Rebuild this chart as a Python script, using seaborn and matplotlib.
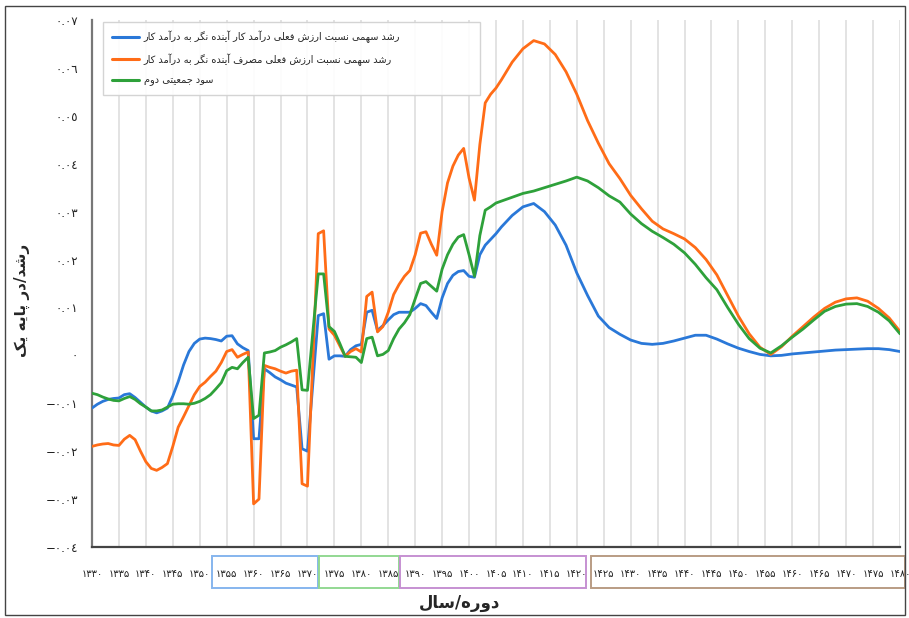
import numpy as np
import pandas as pd
import matplotlib
matplotlib.use("Agg")
import matplotlib.pyplot as plt
import matplotlib.patches as mpatches
from matplotlib.transforms import blended_transform_factory
import seaborn as sns

# ---------------- data ----------------
years = (list(range(1330, 1371)) + list(range(1372, 1406)) + list(range(1406, 1481, 2)))

blue = [
    -0.0110, -0.0102, -0.0096, -0.0092, -0.0090, -0.0089, -0.0082, -0.0080, -0.0088, -0.0098,
    -0.0108, -0.0116, -0.0120, -0.0116, -0.0110, -0.0085, -0.0055, -0.0020, 0.0008, 0.0025,
    0.0034, 0.0036, 0.0035, 0.0033, 0.0030, 0.0040, 0.0041, 0.0024, 0.0016, 0.0010,
    -0.0174, -0.0174, -0.0028, -0.0036, -0.0045, -0.0051, -0.0058, -0.0062, -0.0066, -0.0195,
    -0.0200,
    0.0083, 0.0087, -0.0008, -0.0001, -0.0001, -0.0002, 0.0012, 0.0020, 0.0023, 0.0090,
    0.0094, 0.0052, 0.0062, 0.0074, 0.0085, 0.0090, 0.0090, 0.0090, 0.0098, 0.0108,
    0.0104, 0.0090, 0.0077, 0.0120, 0.0150, 0.0167, 0.0175, 0.0177, 0.0165, 0.0163,
    0.0210, 0.0230, 0.0242, 0.0254,
    0.0268, 0.0292, 0.0310, 0.0317, 0.0300, 0.0272, 0.0230, 0.0172, 0.0125, 0.0082,
    0.0058, 0.0044, 0.0032, 0.0025, 0.0023, 0.0025, 0.0030, 0.0036, 0.0042, 0.0042,
    0.0034, 0.0024, 0.0015, 0.0008, 0.0002, -0.0001, 0.0000, 0.0003, 0.0005, 0.0007,
    0.0009, 0.0011, 0.0012, 0.0013, 0.0014, 0.0014, 0.0012, 0.0008,
]

orange = [
    -0.0190, -0.0187, -0.0185, -0.0184, -0.0187, -0.0188, -0.0175, -0.0167, -0.0176, -0.0200,
    -0.0222, -0.0236, -0.0240, -0.0234, -0.0226, -0.0190, -0.0150, -0.0128, -0.0105, -0.0082,
    -0.0065, -0.0056, -0.0044, -0.0033, -0.0015, 0.0008, 0.0012, -0.0004, 0.0002, 0.0007,
    -0.0310, -0.0300, -0.0021, -0.0025, -0.0028, -0.0033, -0.0037, -0.0033, -0.0031, -0.0268,
    -0.0273,
    0.0254, 0.0260, 0.0055, 0.0042, 0.0020, -0.0002, 0.0008, 0.0014, 0.0007, 0.0123,
    0.0132, 0.0049, 0.0060, 0.0090, 0.0127, 0.0148, 0.0165, 0.0177, 0.0210, 0.0255,
    0.0258, 0.0232, 0.0209, 0.0300, 0.0360, 0.0395, 0.0418, 0.0432, 0.0370, 0.0324,
    0.0440, 0.0527, 0.0545, 0.0558,
    0.0575, 0.0612, 0.0640, 0.0657, 0.0650, 0.0628, 0.0592, 0.0545, 0.0490, 0.0443,
    0.0400, 0.0369, 0.0334, 0.0306, 0.0280, 0.0264, 0.0254, 0.0243, 0.0225, 0.0200,
    0.0168, 0.0125, 0.0082, 0.0045, 0.0017, 0.0002, 0.0018, 0.0040, 0.0060, 0.0080,
    0.0098, 0.0111, 0.0118, 0.0120, 0.0113, 0.0098, 0.0078, 0.0050,
]

green = [
    -0.0079, -0.0082, -0.0087, -0.0091, -0.0094, -0.0095, -0.0090, -0.0086, -0.0092, -0.0101,
    -0.0108, -0.0116, -0.0116, -0.0114, -0.0108, -0.0102, -0.0101, -0.0101, -0.0102, -0.0100,
    -0.0096, -0.0090, -0.0082, -0.0070, -0.0057, -0.0032, -0.0025, -0.0028, -0.0015, -0.0004,
    -0.0132, -0.0125, 0.0005, 0.0007, 0.0010, 0.0017, 0.0022, 0.0028, 0.0035, -0.0072,
    -0.0073,
    0.0170, 0.0170, 0.0060, 0.0050, 0.0025, -0.0002, -0.0003, -0.0004, -0.0015, 0.0035,
    0.0038, -0.0001, 0.0002, 0.0010, 0.0035, 0.0055, 0.0068, 0.0085, 0.0118, 0.0150,
    0.0154, 0.0144, 0.0134, 0.0180, 0.0210, 0.0232, 0.0247, 0.0252, 0.0210, 0.0165,
    0.0250, 0.0303, 0.0310, 0.0318,
    0.0322, 0.0330, 0.0338, 0.0343, 0.0350, 0.0357, 0.0364, 0.0372, 0.0364, 0.0350,
    0.0333, 0.0320, 0.0295, 0.0275, 0.0259, 0.0246, 0.0232, 0.0214, 0.0190, 0.0162,
    0.0137, 0.0100, 0.0065, 0.0035, 0.0015, 0.0005, 0.0020, 0.0038, 0.0055, 0.0074,
    0.0092, 0.0102, 0.0107, 0.0108, 0.0102, 0.0090, 0.0072, 0.0045,
]

series_names = [
    "رشد سهمی نسبت ارزش فعلی درآمد کار آینده نگر به درآمد کار",
    "رشد سهمی نسبت ارزش فعلی مصرف آینده نگر به درآمد کار",
    "سود جمعیتی دوم",
]
x_label = "دوره/سال"
y_label = "رشد/در پایه یک"
x_ticks = list(range(1330, 1481, 5))
y_ticks = [-0.04, -0.03, -0.02, -0.01, 0.0, 0.01, 0.02, 0.03, 0.04, 0.05, 0.06, 0.07]
period_boxes = [(1352.2, 1372.0), (1372.2, 1387.0), (1387.2, 1421.8), (1422.6, 1481.0)]
box_colors = ["#86b6ee", "#93d893", "#c690d2", "#b99c84"]
line_colors = ["#2a78d8", "#ff6c17", "#2ea13a"]

# ---------------- Persian shaping (presentation forms, visual order) ----------------
FORMS = {
    '\u0627': ('\uFE8D', '\uFE8E', None, None),
    '\u0622': ('\uFE81', '\uFE82', None, None),
    '\u0628': ('\uFE8F', '\uFE90', '\uFE91', '\uFE92'),
    '\u062A': ('\uFE95', '\uFE96', '\uFE97', '\uFE98'),
    '\u062C': ('\uFE9D', '\uFE9E', '\uFE9F', '\uFEA0'),
    '\u062F': ('\uFEA9', '\uFEAA', None, None),
    '\u0631': ('\uFEAD', '\uFEAE', None, None),
    '\u0632': ('\uFEAF', '\uFEB0', None, None),
    '\u0633': ('\uFEB1', '\uFEB2', '\uFEB3', '\uFEB4'),
    '\u0634': ('\uFEB5', '\uFEB6', '\uFEB7', '\uFEB8'),
    '\u0635': ('\uFEB9', '\uFEBA', '\uFEBB', '\uFEBC'),
    '\u0639': ('\uFEC9', '\uFECA', '\uFECB', '\uFECC'),
    '\u0641': ('\uFED1', '\uFED2', '\uFED3', '\uFED4'),
    '\u0644': ('\uFEDD', '\uFEDE', '\uFEDF', '\uFEE0'),
    '\u0645': ('\uFEE1', '\uFEE2', '\uFEE3', '\uFEE4'),
    '\u0646': ('\uFEE5', '\uFEE6', '\uFEE7', '\uFEE8'),
    '\u0647': ('\uFEE9', '\uFEEA', '\uFEEB', '\uFEEC'),
    '\u0648': ('\uFEED', '\uFEEE', None, None),
    '\u067E': ('\uFB56', '\uFB57', '\uFB58', '\uFB59'),
    '\u06A9': ('\uFB8E', '\uFB8F', '\uFB90', '\uFB91'),
    '\u06AF': ('\uFB92', '\uFB93', '\uFB94', '\uFB95'),
    '\u06CC': ('\uFBFC', '\uFBFD', '\uFBFE', '\uFBFF'),
}


def shape(s):
    out = []
    n = len(s)
    for i, c in enumerate(s):
        f = FORMS.get(c)
        if f is None:
            out.append(c)
            continue
        prev = s[i - 1] if i > 0 else None
        nxt = s[i + 1] if i < n - 1 else None
        jp = prev in FORMS and FORMS[prev][2] is not None
        jn = f[2] is not None and nxt in FORMS
        if jp and jn:
            g = f[3]
        elif jp:
            g = f[1]
        elif jn:
            g = f[2]
        else:
            g = f[0]
        out.append(g)
    return ''.join(reversed(out))


PERSIAN = str.maketrans('0123456789', '۰۱۲۳۴۵۶۷۸۹')
ARABIC = str.maketrans('0123456789', '٠١٢٣٤٥٦٧٨٩')


def ylab(v):
    if abs(v) < 1e-12:
        return '0'.translate(ARABIC)
    s = f"{abs(v):.2f}".translate(ARABIC)
    return ('\u2212' if v < 0 else '') + s


# ---------------- plot ----------------
sns.set_style("white")
plt.rcParams['font.family'] = ['DejaVu Sans']

df = pd.concat([
    pd.DataFrame({"year": years, "value": vals, "series": name})
    for name, vals in zip(series_names, [blue, orange, green])
])

fig = plt.figure(figsize=(9.09, 6.18), dpi=100)
ax = fig.add_axes([92 / 909, 1 - 547 / 618, 808 / 909, 527 / 618])

sns.lineplot(data=df, x="year", y="value", hue="series", hue_order=series_names,
             palette=line_colors, estimator=None, linewidth=2.0, ax=ax, legend=False,
             zorder=3)

ax.set_xlim(1330, 1480)
ax.set_ylim(-0.04, 0.07)
ax.set_xticks(x_ticks)
ax.set_xticklabels([str(t).translate(PERSIAN) for t in x_ticks], fontsize=7.2)
ax.set_yticks(y_ticks)
ax.set_yticklabels([ylab(v) for v in y_ticks], fontsize=8.5)

ax.xaxis.grid(True, color="#e3e3e3", linewidth=1.4, zorder=0)
ax.yaxis.grid(False)
for side in ["top", "right"]:
    ax.spines[side].set_visible(False)
ax.spines["left"].set_color("#777777")
ax.spines["left"].set_linewidth(1.6)
ax.spines["bottom"].set_color("#444444")
ax.spines["bottom"].set_linewidth(1.6)
ax.tick_params(axis="x", direction="inout", length=6, width=1.2, color="#444444",
               pad=13, labelcolor="#222222")
ax.tick_params(axis="y", direction="out", length=4, width=1.2, color="#777777",
               pad=6, labelcolor="#222222")

ax.set_xlabel(shape(x_label), fontsize=12, fontweight="bold")
ax.set_ylabel(shape(y_label), fontsize=11, fontweight="bold")
ax.xaxis.set_label_coords((460 - 92) / 808, (547 - 594) / 527)
ax.yaxis.set_label_coords((30 - 92) / 808, (547 - 300) / 527)

# legend
handles = [plt.Line2D([], [], color=c, linewidth=2.2) for c in line_colors]
leg = ax.legend(handles, [shape(n) for n in series_names],
                loc="upper left", bbox_to_anchor=((103 - 92) / 808, (547 - 92) / 527,
                                                  (480 - 103) / 808, 70 / 527),
                mode="expand", borderaxespad=0, fontsize=7, frameon=True,
                fancybox=False, edgecolor="#d0d0d0", framealpha=0.9,
                handlelength=2.8, handletextpad=0.5, labelspacing=1.0,
                borderpad=0.9)
leg.get_frame().set_linewidth(1.0)

# period boxes around tick labels
tr = blended_transform_factory(ax.transData, fig.transFigure)
for (x0, x1), col in zip(period_boxes, box_colors):
    ax.add_patch(mpatches.Rectangle((x0, 1 - 588 / 618), x1 - x0, 32 / 618,
                                    transform=tr, fill=False, edgecolor=col,
                                    linewidth=1.4, clip_on=False, zorder=5))

# outer frame
fig.patches.append(mpatches.Rectangle((5 / 909, 3 / 618), 900 / 909, 609 / 618,
                                      transform=fig.transFigure, fill=False,
                                      edgecolor="#444444", linewidth=1.0))

fig.savefig("out.png", dpi=100)
